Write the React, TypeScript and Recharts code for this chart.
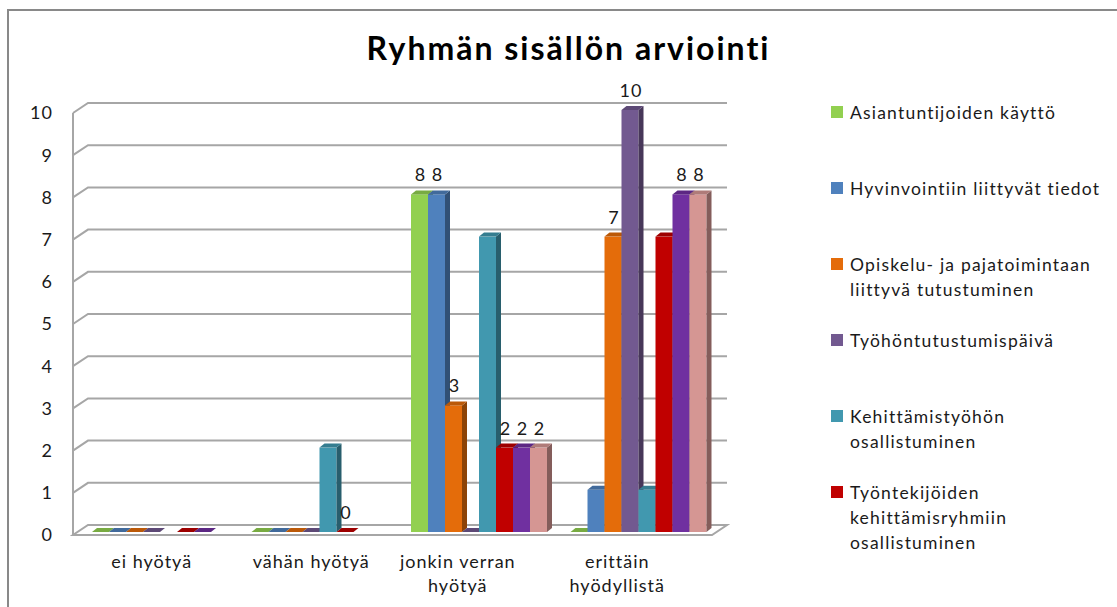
import React from 'react';
import { BarChart, Bar, XAxis, YAxis, CartesianGrid, LabelList } from 'recharts';

// ---- data ----
const categories = ['ei hyötyä', 'vähän hyötyä', 'jonkin verran hyötyä', 'erittäin hyödyllistä'];

const seriesNames = [
  'Asiantuntijoiden käyttö',
  'Hyvinvointiin liittyvät tiedot',
  'Opiskelu- ja pajatoimintaan liittyvä tutustuminen',
  'Työhöntutustumispäivä',
  'Kehittämistyöhön osallistuminen',
  'Työntekijöiden kehittämisryhmiin osallistuminen',
  'Sarja7',
  'Sarja8',
];

const asiantuntijat: (number | null)[] = [0, 0, 8, 0];
const hyvinvointi: (number | null)[] = [0, 0, 8, 1];
const opiskelu: (number | null)[] = [0, 0, 3, 7];
const tyohontutustuminen: (number | null)[] = [0, 0, 0, 10];
const kehittamistyo: (number | null)[] = [null, 2, 7, 1];
const tyontekijat: (number | null)[] = [0, 0, 2, 7];
const sarja7: (number | null)[] = [0, null, 2, 8];
const sarja8: (number | null)[] = [null, null, 2, 8];

// which cells carry a visible data label in the original
const labelsAsiantuntijat = [false, false, true, false];
const labelsHyvinvointi = [false, false, true, false];
const labelsOpiskelu = [false, false, true, true];
const labelsTyohon = [false, false, false, true];
const labelsKehittamis = [false, false, false, false];
const labelsTyontekijat = [false, true, true, false];
const labelsSarja7 = [false, false, true, true];
const labelsSarja8 = [false, false, true, true];

const yTicks = [0, 1, 2, 3, 4, 5, 6, 7, 8, 9, 10];

const seriesValues = [asiantuntijat, hyvinvointi, opiskelu, tyohontutustuminen, kehittamistyo, tyontekijat, sarja7, sarja8];
const seriesLabels = [labelsAsiantuntijat, labelsHyvinvointi, labelsOpiskelu, labelsTyohon, labelsKehittamis, labelsTyontekijat, labelsSarja7, labelsSarja8];
const seriesColors = ['#92D050', '#4F81BD', '#E46C0A', '#725990', '#4198AF', '#C00000', '#7030A0', '#D59693'];
const legendCount = 6;

const data = categories.map((c, i) => {
  const row: Record<string, any> = { category: c };
  seriesValues.forEach((vals, s) => {
    row['s' + s] = vals[i];
    row['l' + s] = seriesLabels[s][i] ? vals[i] : null;
  });
  return row;
});

// ---- helpers ----
const FONT = 'Lato, "Open Sans", sans-serif';

function shade(hex: string, f: number) {
  const n = parseInt(hex.slice(1), 16);
  const r = Math.round(((n >> 16) & 255) * f);
  const g = Math.round(((n >> 8) & 255) * f);
  const b = Math.round((n & 255) * f);
  return `rgb(${r},${g},${b})`;
}

function wrap(text: string, max: number) {
  const words = text.split(' ');
  const lines: string[] = [];
  let cur = '';
  words.forEach((w) => {
    const t = cur ? cur + ' ' + w : w;
    if (t.length > max && cur) {
      lines.push(cur);
      cur = w;
    } else cur = t;
  });
  if (cur) lines.push(cur);
  return lines;
}

const DX = 5;
const DY = -4;

const makeShape = (key: string, color: string) => (props: any) => {
  const { x, y, width, height, payload } = props;
  if (!payload || payload[key] == null) return <g />;
  const w = width;
  const top = y;
  const bottom = y + height;
  const side = shade(color, 0.62);
  const topC = shade(color, 0.82);
  return (
    <g>
      {height > 0 && <rect x={x} y={top} width={w} height={height} fill={color} />}
      {height > 0 && (
        <polygon
          points={`${x + w},${top} ${x + w + DX},${top + DY} ${x + w + DX},${bottom + DY} ${x + w},${bottom}`}
          fill={side}
        />
      )}
      <polygon
        points={`${x},${top} ${x + DX},${top + DY} ${x + w + DX},${top + DY} ${x + w},${top}`}
        fill={topC}
      />
    </g>
  );
};

const renderLabel = (p: any) => {
  const { x, y, width, value } = p;
  if (value == null) return <g />;
  return (
    <text x={x + width / 2 + 1} y={y - 13} textAnchor="middle" fontFamily={FONT} fontSize={18} fill="#1a1a1a" letterSpacing={1}>
      {value}
    </text>
  );
};

const GRID = '#a6a6a6';

const gridLine = (p: any) => {
  const { x1, x2, y1, index } = p;
  const bottom = typeof p.y === 'number' && typeof p.height === 'number' ? p.y + p.height : y1;
  const isFloor = Math.abs(y1 - bottom) < 0.5;
  const fx = x1 - 6;
  const bx = x1 + 9;
  const ex = x2 + 10;
  return (
    <g key={'g' + index}>
      <line x1={fx} y1={y1 + 3} x2={fx} y2={bottom + 3} stroke={GRID} strokeWidth={2} />
      {isFloor ? (
        <polygon
          points={`${fx},${y1 + 3} ${x2 - 5},${y1 + 3} ${ex},${y1 - 7} ${bx},${y1 - 7}`}
          fill="#fff"
          stroke={GRID}
          strokeWidth={2}
          strokeLinejoin="miter"
        />
      ) : (
        <polyline points={`${fx},${y1 + 3} ${bx},${y1 - 7} ${ex},${y1 - 7}`} fill="none" stroke={GRID} strokeWidth={2} />
      )}
    </g>
  );
};

const YTick = (p: any) => {
  const { x, y, payload } = p;
  return (
    <text x={x} y={y + 3} dy="0.36em" textAnchor="end" fontFamily={FONT} fontSize={18} fill="#1a1a1a" letterSpacing={1}>
      {payload.value}
    </text>
  );
};

const XTick = (p: any) => {
  const { x, y, payload } = p;
  const lines = wrap(String(payload.value), 13);
  const cx = x + (lines.length > 1 ? -20 : -7);
  return (
    <text x={cx} y={y + 28} textAnchor="middle" fontFamily={FONT} fontSize={18} fill="#1a1a1a" letterSpacing={1}>
      {lines.map((l, i) => (
        <tspan key={i} x={cx} dy={i === 0 ? 0 : 24}>
          {l}
        </tspan>
      ))}
    </text>
  );
};

export default function App() {
  return (
    <div style={{ position: 'absolute', left: 0, top: 0, width: 1117, height: 607, background: '#fff', overflow: 'hidden' }}>
      <div
        style={{
          position: 'absolute',
          left: 7,
          top: 9,
          width: 1108,
          height: 596,
          borderTop: '2px solid #898989',
          borderLeft: '2px solid #898989',
        }}
      />
      <div
        style={{
          position: 'absolute',
          left: 0,
          width: 1137,
          top: 26,
          textAlign: 'center',
          fontFamily: FONT,
          fontWeight: 700,
          fontSize: 32,
          letterSpacing: 2,
          color: '#000',
          lineHeight: '44px',
        }}
      >
        Ryhmän sisällön arviointi
      </div>
      <div style={{ position: 'absolute', left: 0, top: 0 }}>
        <BarChart
          width={1117}
          height={607}
          data={data}
          margin={{ top: 110, right: 400, bottom: 15, left: 0 }}
          barCategoryGap={13}
          barGap={0}
        >
          <CartesianGrid horizontal={gridLine} vertical={false} />
          <XAxis dataKey="category" axisLine={false} tickLine={false} height={60} interval={0} tick={<XTick />} />
          <YAxis
            width={79}
            domain={[0, 10]}
            ticks={yTicks}
            axisLine={false}
            tickLine={false}
            tickMargin={20}
            interval={0}
            tick={<YTick />}
          />
          {seriesNames.map((name, s) => (
            <Bar
              key={name}
              dataKey={'s' + s}
              name={name}
              fill={seriesColors[s]}
              isAnimationActive={false}
              shape={makeShape('s' + s, seriesColors[s])}
            >
              <LabelList dataKey={'l' + s} content={renderLabel} />
            </Bar>
          ))}
        </BarChart>
      </div>
      {seriesNames.slice(0, legendCount).map((name, i) => (
        <div key={name} style={{ position: 'absolute', left: 831, top: 100 + i * 76, display: 'flex', alignItems: 'flex-start' }}>
          <div style={{ width: 12, height: 12, background: seriesColors[i], marginTop: 6, marginRight: 7 }} />
          <div style={{ fontFamily: FONT, fontSize: 17.5, lineHeight: '25px', letterSpacing: 1.2, color: '#1a1a1a', whiteSpace: 'nowrap' }}>
            {wrap(name, 30).map((l, j) => (
              <div key={j}>{l}</div>
            ))}
          </div>
        </div>
      ))}
    </div>
  );
}
